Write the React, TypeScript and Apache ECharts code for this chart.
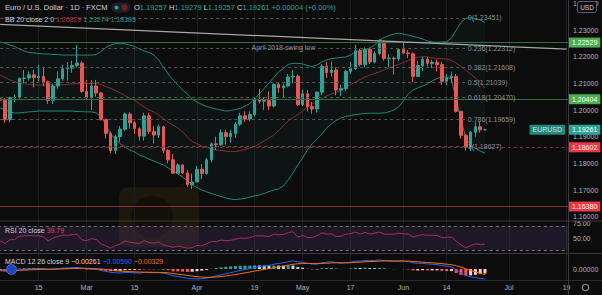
import React, { useEffect, useRef } from 'react';
import * as echarts from 'echarts';

const FIRST_DAY = '2021-02-03';
const LAST_DAY = '2021-07-19';

const dateTicks: [string, string][] = [
  ['2021-02-15', '15'], ['2021-03-01', 'Mar'], ['2021-03-15', '15'], ['2021-04-01', 'Apr'],
  ['2021-04-19', '19'], ['2021-05-03', 'May'], ['2021-05-17', '17'], ['2021-06-01', 'Jun'],
  ['2021-06-14', '14'], ['2021-07-01', 'Jul'], ['2021-07-19', '19'],
];

// [open, high, low, close]
const ohlc: number[][] = [
  [1.2042, 1.2058, 1.2015, 1.2037], [1.2037, 1.2045, 1.1952, 1.1963], [1.1963, 1.2050, 1.1953, 1.2046],
  [1.2046, 1.2058, 1.2030, 1.2048], [1.2048, 1.2122, 1.2040, 1.2118], [1.2118, 1.2150, 1.2101, 1.2120],
  [1.2120, 1.2145, 1.2110, 1.2132], [1.2132, 1.2150, 1.2085, 1.2122], [1.2122, 1.2170, 1.2108, 1.2126],
  [1.2126, 1.2162, 1.2089, 1.2106], [1.2106, 1.2110, 1.2023, 1.2036], [1.2036, 1.2100, 1.2023, 1.2090],
  [1.2090, 1.2145, 1.2080, 1.2117], [1.2117, 1.2170, 1.2110, 1.2155], [1.2155, 1.2180, 1.2110, 1.2157],
  [1.2157, 1.2185, 1.2140, 1.2167], [1.2167, 1.2243, 1.2160, 1.2176], [1.2176, 1.2183, 1.2065, 1.2070],
  [1.2070, 1.2112, 1.2040, 1.2046], [1.2046, 1.2112, 1.2000, 1.2090], [1.2090, 1.2113, 1.2050, 1.2064],
  [1.2064, 1.2068, 1.1960, 1.1964], [1.1964, 1.1968, 1.1893, 1.1912], [1.1912, 1.1920, 1.1838, 1.1848],
  [1.1848, 1.1908, 1.1835, 1.1900], [1.1900, 1.1940, 1.1880, 1.1928], [1.1928, 1.1990, 1.1922, 1.1985],
  [1.1985, 1.1992, 1.1930, 1.1952], [1.1952, 1.1960, 1.1910, 1.1930], [1.1930, 1.1935, 1.1885, 1.1902],
  [1.1902, 1.1990, 1.1885, 1.1978], [1.1978, 1.1990, 1.1910, 1.1920], [1.1920, 1.1940, 1.1874, 1.1906],
  [1.1906, 1.1945, 1.1895, 1.1937], [1.1937, 1.1942, 1.1838, 1.1848], [1.1848, 1.1853, 1.1800, 1.1813],
  [1.1813, 1.1835, 1.1760, 1.1763], [1.1763, 1.1800, 1.1760, 1.1794], [1.1794, 1.1796, 1.1760, 1.1764],
  [1.1764, 1.1775, 1.1712, 1.1720], [1.1720, 1.1762, 1.1704, 1.1730], [1.1730, 1.1790, 1.1730, 1.1778],
  [1.1778, 1.1797, 1.1740, 1.1762], [1.1762, 1.1820, 1.1758, 1.1813], [1.1813, 1.1878, 1.1803, 1.1873],
  [1.1873, 1.1900, 1.1850, 1.1870], [1.1870, 1.1927, 1.1865, 1.1915], [1.1915, 1.1925, 1.1870, 1.1900],
  [1.1900, 1.1925, 1.1876, 1.1912], [1.1912, 1.1955, 1.1895, 1.1947], [1.1947, 1.1990, 1.1940, 1.1978],
  [1.1978, 1.1995, 1.1955, 1.1966], [1.1966, 1.1995, 1.1958, 1.1983], [1.1983, 1.2048, 1.1975, 1.2037],
  [1.2037, 1.2080, 1.2024, 1.2033], [1.2033, 1.2048, 1.2000, 1.2035], [1.2035, 1.2070, 1.2000, 1.2015],
  [1.2015, 1.2100, 1.2010, 1.2096], [1.2096, 1.2102, 1.2065, 1.2083], [1.2083, 1.2100, 1.2045, 1.2090],
  [1.2090, 1.2135, 1.2085, 1.2124], [1.2124, 1.2150, 1.2100, 1.2127], [1.2127, 1.2133, 1.2015, 1.2020],
  [1.2020, 1.2077, 1.2015, 1.2061], [1.2061, 1.2075, 1.1995, 1.2013], [1.2013, 1.2030, 1.1986, 1.2004],
  [1.2004, 1.2070, 1.1990, 1.2067], [1.2067, 1.2172, 1.2055, 1.2164], [1.2164, 1.2180, 1.2120, 1.2140],
  [1.2140, 1.2182, 1.2125, 1.2150], [1.2150, 1.2160, 1.2055, 1.2075], [1.2075, 1.2095, 1.2052, 1.2080],
  [1.2080, 1.2150, 1.2072, 1.2145], [1.2145, 1.2180, 1.2135, 1.2155], [1.2155, 1.2245, 1.2150, 1.2222],
  [1.2222, 1.2230, 1.2163, 1.2170], [1.2170, 1.2235, 1.2160, 1.2227], [1.2227, 1.2235, 1.2172, 1.2180],
  [1.2180, 1.2220, 1.2175, 1.2212], [1.2212, 1.2266, 1.2205, 1.2249], [1.2249, 1.2260, 1.2185, 1.2193],
  [1.2193, 1.2210, 1.2160, 1.2194], [1.2194, 1.2200, 1.2133, 1.2192], [1.2192, 1.2230, 1.2185, 1.2227],
  [1.2227, 1.2255, 1.2210, 1.2214], [1.2214, 1.2225, 1.2195, 1.2211], [1.2211, 1.2216, 1.2104, 1.2126],
  [1.2126, 1.2184, 1.2125, 1.2167], [1.2167, 1.2200, 1.2145, 1.2190], [1.2190, 1.2200, 1.2163, 1.2175],
  [1.2175, 1.2188, 1.2157, 1.2179], [1.2179, 1.2190, 1.2145, 1.2170], [1.2170, 1.2180, 1.2094, 1.2108],
  [1.2108, 1.2135, 1.2093, 1.2120], [1.2120, 1.2144, 1.2105, 1.2126], [1.2126, 1.2135, 1.1990, 1.1995],
  [1.1995, 1.1997, 1.1893, 1.1905], [1.1905, 1.1910, 1.1848, 1.1860], [1.1860, 1.1922, 1.1846, 1.1917],
  [1.1917, 1.1954, 1.1900, 1.1937], [1.1937, 1.1955, 1.1915, 1.19257], [1.19257, 1.19279, 1.19257, 1.19261],
];

const bbUpper = [
  1.2255, 1.2251, 1.2244, 1.2238, 1.2229, 1.2221, 1.2216, 1.2214, 1.2212, 1.2210,
  1.2210, 1.2208, 1.2208, 1.2206, 1.2206, 1.2206, 1.2206, 1.2206, 1.2206, 1.2206,
  1.2208, 1.2219, 1.2234, 1.2244, 1.2249, 1.2250, 1.2248, 1.2244, 1.2238, 1.2229,
  1.2221, 1.2216, 1.2206, 1.2188, 1.2161, 1.2135, 1.2113, 1.2094, 1.2075, 1.2060,
  1.2041, 1.2030, 1.2021, 1.2013, 1.2008, 1.2004, 1.2000, 1.1996, 1.1998, 1.2002,
  1.2006, 1.2015, 1.2024, 1.2041, 1.2060, 1.2081, 1.2101, 1.2122, 1.2143, 1.2156,
  1.2171, 1.2175, 1.2175, 1.2173, 1.2167, 1.2163, 1.2169, 1.2180, 1.2188, 1.2193,
  1.2195, 1.2197, 1.2199, 1.2206, 1.2218, 1.2223, 1.2227, 1.2231, 1.2244, 1.2261,
  1.2272, 1.2279, 1.2285, 1.2288, 1.2285, 1.2281, 1.2276, 1.2272, 1.2266, 1.2259,
  1.2255, 1.2254, 1.2255, 1.2256, 1.2270, 1.2300, 1.2328, 1.2344, 1.2346, 1.2343,
  1.2338, 1.23274,
];

const bbBasis = [
  1.2131, 1.2122, 1.2113, 1.2107, 1.2101, 1.2098, 1.2096, 1.2094, 1.2094, 1.2094,
  1.2094, 1.2094, 1.2094, 1.2094, 1.2096, 1.2098, 1.2099, 1.2099, 1.2099, 1.2099,
  1.2099, 1.2096, 1.2088, 1.2081, 1.2073, 1.2064, 1.2054, 1.2045, 1.2036, 1.2023,
  1.2011, 1.2000, 1.1993, 1.1981, 1.1968, 1.1955, 1.1944, 1.1933, 1.1918, 1.1899,
  1.1882, 1.1873, 1.1865, 1.1859, 1.1854, 1.1850, 1.1848, 1.1846, 1.1844, 1.1844,
  1.1848, 1.1852, 1.1858, 1.1863, 1.1873, 1.1884, 1.1895, 1.1906, 1.1923, 1.1940,
  1.1959, 1.1972, 1.1983, 1.1996, 1.2011, 1.2023, 1.2032, 1.2043, 1.2053, 1.2060,
  1.2066, 1.2075, 1.2086, 1.2096, 1.2105, 1.2114, 1.2124, 1.2131, 1.2137, 1.2143,
  1.2150, 1.2158, 1.2165, 1.2171, 1.2178, 1.2186, 1.2193, 1.2198, 1.2200, 1.2199,
  1.2195, 1.2194, 1.2193, 1.2191, 1.2186, 1.2176, 1.2163, 1.2150, 1.2135, 1.2120,
  1.2103, 1.20829,
];

const bbLower = [
  1.2008, 1.2000, 1.1993, 1.1989, 1.1989, 1.1991, 1.1993, 1.1994, 1.1996, 1.1996,
  1.1996, 1.1996, 1.1996, 1.1996, 1.1996, 1.1996, 1.1994, 1.1994, 1.1993, 1.1993,
  1.1989, 1.1976, 1.1944, 1.1910, 1.1891, 1.1874, 1.1861, 1.1850, 1.1843, 1.1831,
  1.1824, 1.1816, 1.1809, 1.1801, 1.1794, 1.1783, 1.1771, 1.1760, 1.1749, 1.1734,
  1.1719, 1.1709, 1.1700, 1.1693, 1.1687, 1.1681, 1.1676, 1.1670, 1.1666, 1.1664,
  1.1666, 1.1668, 1.1674, 1.1678, 1.1681, 1.1687, 1.1694, 1.1700, 1.1704, 1.1715,
  1.1738, 1.1764, 1.1794, 1.1820, 1.1850, 1.1873, 1.1891, 1.1910, 1.1933, 1.1948,
  1.1961, 1.1970, 1.1976, 1.1979, 1.1983, 1.1985, 1.1987, 1.1988, 1.1988, 1.1988,
  1.1989, 1.1993, 1.2000, 1.2011, 1.2034, 1.2060, 1.2075, 1.2083, 1.2090, 1.2098,
  1.2109, 1.2118, 1.2124, 1.2124, 1.2116, 1.2038, 1.1963, 1.1895, 1.1869, 1.1856,
  1.1846, 1.18383,
];

const rsi = [
  45, 41, 47, 47.5, 53, 53.5, 54.5, 53.5, 54, 52,
  45, 50, 52.5, 55, 54.5, 55.5, 56, 47, 45.5, 49,
  47.5, 40.5, 37, 33, 37.5, 40, 45, 43, 42, 40.5,
  45.5, 42.5, 41.5, 43.5, 38.5, 36.5, 34.5, 36.5, 35, 33,
  34, 37.5, 37, 40.5, 44, 44, 46.5, 45.5, 46, 48,
  50, 49.5, 50.5, 53.5, 53.5, 53.5, 52.5, 56.5, 55.5, 56,
  59, 60.5, 51.5, 54, 51, 50.5, 54, 58.5, 56.5, 57,
  52.5, 53, 56.5, 57, 60, 56.5, 59.5, 56.5, 58, 60,
  56.5, 56.5, 56.5, 58, 57, 56.8, 51.5, 54, 55.5, 54.5,
  54.8, 54.2, 50.5, 51.2, 51.5, 44.5, 38.5, 33.5, 37.5, 40.2,
  39.4, 39.79,
];

const macdLine = [
  -0.0010, -0.0013, -0.0011, -0.0009, -0.0005, -0.0002, 0.0000, 0.0001, 0.0002, 0.0002,
  -0.0001, 0.0000, 0.0002, 0.0005, 0.0006, 0.0008, 0.0009, 0.0005, 0.0001, 0.0000,
  -0.0002, -0.0008, -0.0014, -0.0020, -0.0022, -0.0023, -0.0021, -0.0021, -0.0022, -0.0024,
  -0.0020, -0.0021, -0.0022, -0.0021, -0.0025, -0.0030, -0.0040, -0.0044, -0.0049, -0.0055,
  -0.0058, -0.0058, -0.0057, -0.0054, -0.0047, -0.0041, -0.0034, -0.0028, -0.0022, -0.0015,
  -0.0008, -0.0003, 0.0002, 0.0009, 0.0014, 0.0018, 0.0021, 0.0028, 0.0033, 0.0037,
  0.0043, 0.0048, 0.0042, 0.0040, 0.0034, 0.0029, 0.0029, 0.0037, 0.0040, 0.0043,
  0.0038, 0.0035, 0.0037, 0.0040, 0.0046, 0.0046, 0.0050, 0.0049, 0.0050, 0.0053,
  0.0050, 0.0048, 0.0046, 0.0047, 0.0046, 0.0044, 0.0036, 0.0034, 0.0033, 0.0030,
  0.0028, 0.0026, 0.0020, 0.0016, 0.0013, -0.0004, -0.0024, -0.0038, -0.0046, -0.0051,
  -0.0055, -0.0059,
];

const signalLine = [
  -0.00060, -0.00074, -0.00081, -0.00083, -0.00076, -0.00065, -0.00052, -0.00040, -0.00028, -0.00018,
  -0.00017, -0.00014, -0.00007, 0.00004, 0.00015, 0.00028, 0.00040, 0.00042, 0.00036, 0.00029,
  0.00019, -0.00001, -0.00029, -0.00063, -0.00094, -0.00121, -0.00139, -0.00153, -0.00166, -0.00181,
  -0.00185, -0.00190, -0.00196, -0.00199, -0.00209, -0.00227, -0.00262, -0.00298, -0.00336, -0.00379,
  -0.00419, -0.00451, -0.00475, -0.00488, -0.00484, -0.00469, -0.00443, -0.00410, -0.00372, -0.00328,
  -0.00278, -0.00228, -0.00178, -0.00124, -0.00071, -0.00021, 0.00025, 0.00076, 0.00127, 0.00176,
  0.00227, 0.00278, 0.00306, 0.00325, 0.00328, 0.00320, 0.00314, 0.00325, 0.00340, 0.00358,
  0.00362, 0.00360, 0.00362, 0.00370, 0.00388, 0.00402, 0.00422, 0.00436, 0.00449, 0.00465,
  0.00472, 0.00474, 0.00471, 0.00471, 0.00469, 0.00463, 0.00442, 0.00422, 0.00404, 0.00383,
  0.00362, 0.00342, 0.00314, 0.00283, 0.00252, 0.00194, 0.00107, 0.00010, -0.00084, -0.00169,
  -0.00258, -0.00329,
];

const macdHist = [
  -0.00040, -0.00056, -0.00029, -0.00007, 0.00026, 0.00045, 0.00052, 0.00050, 0.00048, 0.00038,
  0.00007, 0.00014, 0.00027, 0.00046, 0.00045, 0.00052, 0.00050, 0.00008, -0.00026, -0.00029,
  -0.00039, -0.00079, -0.00111, -0.00137, -0.00126, -0.00109, -0.00071, -0.00057, -0.00054, -0.00059,
  -0.00015, -0.00020, -0.00024, -0.00011, -0.00041, -0.00073, -0.00138, -0.00142, -0.00154, -0.00171,
  -0.00161, -0.00129, -0.00095, -0.00052, 0.00014, 0.00059, 0.00103, 0.00130, 0.00152, 0.00178,
  0.00198, 0.00198, 0.00198, 0.00214, 0.00211, 0.00201, 0.00185, 0.00204, 0.00203, 0.00194,
  0.00203, 0.00202, 0.00114, 0.00075, 0.00012, -0.00030, -0.00024, 0.00045, 0.00060, 0.00072,
  0.00018, -0.00010, 0.00008, 0.00030, 0.00072, 0.00058, 0.00078, 0.00054, 0.00051, 0.00065,
  0.00028, 0.00006, -0.00011, -0.00001, -0.00009, -0.00023, -0.00082, -0.00082, -0.00074, -0.00083,
  -0.00082, -0.00082, -0.00114, -0.00123, -0.00122, -0.00234, -0.00347, -0.00390, -0.00376, -0.00341,
  -0.00292, -0.00261,
];

const priceTicks = [1.16, 1.17, 1.18, 1.19, 1.2, 1.21, 1.22, 1.23, 1.24];
const greenLevels = [1.22529, 1.20404];
const redLevels = [1.18602, 1.1638];
const fibLevels: [number, number][] = [
  [0, 1.23451], [0.236, 1.22312], [0.382, 1.21608], [0.5, 1.21039],
  [0.618, 1.2047], [0.786, 1.19659], [1, 1.18627],
];
const fibEndDay = '2021-06-18';
const trendStart = 1.23214;
const trendEnd = 1.2228;
const swingLowNote = 'April 2018 swing low';

function tradingDays(from: string, to: string): string[] {
  const out: string[] = [];
  const d = new Date(from + 'T00:00:00Z');
  const end = new Date(to + 'T00:00:00Z');
  while (d <= end) {
    const w = d.getUTCDay();
    if (w !== 0 && w !== 6) out.push(d.toISOString().slice(0, 10));
    d.setUTCDate(d.getUTCDate() + 1);
  }
  return out;
}

const FONT = "'Liberation Sans', Arial, sans-serif";
const AXIS_TXT = '#b2b5be';
const UP = '#26a69a';
const DOWN = '#ef5350';
const NOLINE = { color: 'rgba(0,0,0,0)', width: 0 };
const fmtSigned = (v: number, d: number) => (v < 0 ? '\u2212' : '') + Math.abs(v).toFixed(d);

export default function App() {
  const ref = useRef<HTMLDivElement>(null);
  useEffect(() => {
    document.body.style.margin = '0';
    document.body.style.background = '#0c0c0c';
    if (!ref.current) return;
    const chart = echarts.init(ref.current, null, { renderer: 'svg' });
    const days = tradingDays(FIRST_DAY, LAST_DAY);
    const tickMap = new Map(dateTicks);
    const last = ohlc[ohlc.length - 1];
    const prevClose = ohlc[ohlc.length - 2][3];
    const lastClose = last[3];
    const chg = lastClose - prevClose;
    const n = ohlc.length;

    const boxLabel = (v: number, bg: string) => ({
      show: true, position: 'end', formatter: v.toFixed(5), backgroundColor: bg, color: '#ffffff',
      fontSize: 7, fontFamily: FONT, padding: [2, 3, 1, 3], distance: 0,
    });

    const priceMarks: any[] = [
      ...greenLevels.map((v) => ({ yAxis: v, lineStyle: { color: '#2f6f3c', width: 1, type: 'solid' }, label: boxLabel(v, '#4caf50') })),
      ...redLevels.map((v, k) => ({ yAxis: v, lineStyle: { color: '#823030', width: 1, type: k === 0 ? [3, 3] : 'solid' }, label: boxLabel(v, '#f23645') })),
      { yAxis: greenLevels[0], lineStyle: NOLINE, label: { show: true, position: 'insideMiddleBottom', formatter: swingLowNote, color: '#8f929b', fontSize: 7, fontFamily: FONT, distance: 1 } },
      { yAxis: lastClose, lineStyle: NOLINE, label: boxLabel(lastClose, UP) },
      ...fibLevels.map(([r, v]) => [
        { coord: [days[0], v], lineStyle: { color: '#565656', width: 1, type: [3, 3] }, label: { show: true, position: 'end', formatter: `${r}(${v.toFixed(5)})`, color: '#8f929b', fontSize: 7, fontFamily: FONT, distance: 2 } },
        { coord: [fibEndDay, v] },
      ]),
      [
        { coord: [days[0], trendStart], lineStyle: { color: '#a8a8a8', width: 1.3, type: 'solid' }, label: { show: false } },
        { coord: [days[days.length - 1], trendEnd] },
      ],
    ];

    const histColors = macdHist.map((h, i) => {
      const p = i > 0 ? macdHist[i - 1] : h;
      if (h >= 0) return h >= p ? '#26a69a' : '#b2dfdb';
      return h < p ? '#ff5252' : '#ffcdd2';
    });

    const hiddenX = (gi: number) => ({ type: 'category', gridIndex: gi, data: days, boundaryGap: true, show: false });
    const baseY = {
      type: 'value', position: 'right', splitLine: { show: false }, axisLine: { show: false }, axisTick: { show: false },
    };
    const grid = (o: any) => ({ ...o, containLabel: false, outerBoundsMode: 'none' });

    const option: any = {
      animation: false,
      backgroundColor: '#0c0c0c',
      textStyle: { fontFamily: FONT },
      grid: [
        grid({ left: -2.2, width: 571.2, top: -23.33, height: 266.67 }),
        grid({ left: -2.2, width: 571.2, top: 208, height: 60 }),
        grid({ left: -2.2, width: 571.2, top: 252, height: 34 }),
        grid({ left: 0.2, width: 566.4, top: 0, height: 280 }),
      ],
      xAxis: [
        hiddenX(0), hiddenX(1), hiddenX(2),
        {
          type: 'category', gridIndex: 3, data: days, boundaryGap: false,
          axisLine: { show: false }, axisTick: { show: false },
          axisLabel: {
            interval: (_i: number, v: string) => tickMap.has(v),
            formatter: (v: string) => tickMap.get(v) || '',
            color: AXIS_TXT, fontSize: 7, fontFamily: FONT, margin: 4,
          },
          splitLine: { show: true, interval: (_i: number, v: string) => tickMap.has(v), lineStyle: { color: '#1b1b1b', width: 1 } },
        },
      ],
      yAxis: [
        {
          ...baseY, gridIndex: 0, min: 1.15, max: 1.25, interval: 0.01,
          axisLabel: {
            color: AXIS_TXT, fontSize: 7, fontFamily: FONT, margin: 4,
            formatter: (v: number) => (priceTicks.some((t) => Math.abs(t - v) < 1e-6) ? v.toFixed(5) : ''),
          },
        },
        {
          ...baseY, gridIndex: 1, min: 0, max: 100, interval: 25,
          axisLabel: { color: AXIS_TXT, fontSize: 7, fontFamily: FONT, margin: 4, formatter: (v: number) => (v === 50 || v === 75 ? v.toFixed(2) : '') },
        },
        {
          ...baseY, gridIndex: 2, min: -0.01, max: 0.01, interval: 0.01,
          axisLabel: { color: AXIS_TXT, fontSize: 7, fontFamily: FONT, margin: 4, formatter: (v: number) => (Math.abs(v) < 1e-9 ? '0.00000' : '') },
        },
        { type: 'value', gridIndex: 3, show: false, min: 0, max: 1 },
      ],
      series: [
        {
          type: 'line', xAxisIndex: 0, yAxisIndex: 0, data: bbLower, stack: 'bb', symbol: 'none', silent: true,
          lineStyle: { opacity: 0 }, z: 1,
        },
        {
          type: 'line', xAxisIndex: 0, yAxisIndex: 0, data: bbUpper.map((u, i) => +(u - bbLower[i]).toFixed(5)), stack: 'bb',
          symbol: 'none', silent: true, lineStyle: { opacity: 0 }, areaStyle: { color: 'rgba(38,166,154,0.08)' }, z: 1,
        },
        { type: 'line', xAxisIndex: 0, yAxisIndex: 0, data: bbUpper, symbol: 'none', silent: true, lineStyle: { color: '#1c8a78', width: 1 }, z: 2 },
        { type: 'line', xAxisIndex: 0, yAxisIndex: 0, data: bbLower, symbol: 'none', silent: true, lineStyle: { color: '#1c8a78', width: 1 }, z: 2 },
        { type: 'line', xAxisIndex: 0, yAxisIndex: 0, data: bbBasis, symbol: 'none', silent: true, lineStyle: { color: '#8a2e30', width: 1 }, z: 2 },
        {
          type: 'candlestick', xAxisIndex: 0, yAxisIndex: 0, barWidth: 3,
          data: ohlc.map(([o, h, l, c]) => [o, c, l, h]),
          itemStyle: { color: UP, color0: DOWN, borderColor: UP, borderColor0: DOWN, borderWidth: 1 },
          z: 3,
          markLine: { silent: true, precision: 5, symbol: ['none', 'none'], animation: false, label: { show: false }, data: priceMarks },
        },
        {
          type: 'scatter', xAxisIndex: 0, yAxisIndex: 0, data: [[days[days.length - 1], lastClose]], symbol: 'rect', symbolSize: 1,
          itemStyle: { color: 'transparent' }, silent: true, z: 6,
          label: { show: true, position: 'left', distance: 1, formatter: 'EURUSD', backgroundColor: UP, color: '#ffffff', fontSize: 7, fontFamily: FONT, padding: [2, 3, 1, 3] },
        },
        {
          type: 'line', xAxisIndex: 1, yAxisIndex: 1, data: rsi, symbol: 'none', silent: true,
          lineStyle: { color: '#a8305c', width: 1 },
          markArea: { silent: true, itemStyle: { color: 'rgba(126,87,194,0.16)' }, data: [[{ yAxis: 30 }, { yAxis: 70 }]] },
          markLine: { silent: true, precision: 2, symbol: ['none', 'none'], label: { show: false }, lineStyle: { color: '#6f7280', type: [3, 3], width: 1 }, data: [{ yAxis: 70 }, { yAxis: 30 }] },
        },
        {
          type: 'bar', xAxisIndex: 2, yAxisIndex: 2, barWidth: 3, silent: true,
          data: macdHist.map((h, i) => ({ value: h, itemStyle: { color: histColors[i] } })),
        },
        { type: 'line', xAxisIndex: 2, yAxisIndex: 2, data: macdLine, symbol: 'none', silent: true, lineStyle: { color: '#2962ff', width: 1 } },
        { type: 'line', xAxisIndex: 2, yAxisIndex: 2, data: signalLine, symbol: 'none', silent: true, lineStyle: { color: '#ff6d00', width: 1 } },
      ],
      graphic: [
        { type: 'rect', z: 0, silent: true, shape: { x: 119, y: 187, width: 80, height: 60, r: 9 }, style: { fill: 'rgba(150,115,20,0.12)' } },
        { type: 'circle', z: 0, silent: true, shape: { cx: 152, cy: 217, r: 21 }, style: { fill: 'rgba(0,0,0,0.3)' } },
        { type: 'line', z: 50, silent: true, shape: { x1: 0, y1: 221, x2: 602, y2: 221 }, style: { stroke: '#3a3a3a', lineWidth: 1 } },
        { type: 'line', z: 50, silent: true, shape: { x1: 0, y1: 253.5, x2: 602, y2: 253.5 }, style: { stroke: '#3a3a3a', lineWidth: 1 } },
        { type: 'line', z: 50, silent: true, shape: { x1: 0, y1: 280.5, x2: 602, y2: 280.5 }, style: { stroke: '#2a2a2a', lineWidth: 1 } },
        { type: 'line', z: 50, silent: true, shape: { x1: 568.5, y1: 0, x2: 568.5, y2: 295 }, style: { stroke: '#3a3a3a', lineWidth: 1 } },
        {
          type: 'text', z: 100, silent: true, x: 5, y: 7.5,
          style: { text: 'Euro / U.S. Dollar \u00b7 1D \u00b7 FXCM', fill: '#d1d4dc', fontSize: 7.5, fontFamily: FONT, verticalAlign: 'middle' },
        },
        { type: 'rect', z: 100, silent: true, shape: { x: 111.5, y: 2.5, width: 19, height: 10, r: 5 }, style: { fill: '#1c1f27' } },
        { type: 'circle', z: 101, silent: true, shape: { cx: 116.5, cy: 7.5, r: 2 }, style: { fill: '#26a69a' } },
        { type: 'circle', z: 101, silent: true, shape: { cx: 124.5, cy: 7.5, r: 3.2 }, style: { fill: '#6b1f2a' } },
        {
          type: 'text', z: 100, silent: true, x: 134, y: 7.5,
          style: {
            text: `{l|O}{v|${last[0].toFixed(5)}} {l|H}{v|${last[1].toFixed(5)}} {l|L}{v|${last[2].toFixed(5)}} {l|C}{v|${last[3].toFixed(5)}} {v|${chg >= 0 ? '+' : '\u2212'}${Math.abs(chg).toFixed(5)} (${chg >= 0 ? '+' : '\u2212'}${Math.abs((chg / prevClose) * 100).toFixed(2)}%)}`,
            fontSize: 7.5, fontFamily: FONT, verticalAlign: 'middle',
            rich: { l: { fill: '#d1d4dc', fontSize: 7.5, fontFamily: FONT }, v: { fill: UP, fontSize: 7.5, fontFamily: FONT } },
          },
        },
        {
          type: 'text', z: 100, silent: true, x: 5, y: 19.5,
          style: {
            text: `{t|BB 20 close 2 0} {b|${bbBasis[n - 1].toFixed(5)}} {u|${bbUpper[n - 1].toFixed(5)}} {u|${bbLower[n - 1].toFixed(5)}}`,
            fontSize: 7, fontFamily: FONT, verticalAlign: 'middle',
            rich: { t: { fill: '#d1d4dc', fontSize: 7, fontFamily: FONT }, b: { fill: '#b8323a', fontSize: 7, fontFamily: FONT }, u: { fill: '#1f9c88', fontSize: 7, fontFamily: FONT } },
          },
        },
        {
          type: 'text', z: 100, silent: true, x: 5, y: 230.5,
          style: {
            text: `{t|RSI 20 close} {r|${rsi[n - 1].toFixed(2)}}`, fontSize: 7, fontFamily: FONT, verticalAlign: 'middle',
            rich: { t: { fill: '#d1d4dc', fontSize: 7, fontFamily: FONT }, r: { fill: '#e0455e', fontSize: 7, fontFamily: FONT } },
          },
        },
        {
          type: 'text', z: 100, silent: true, x: 5, y: 261.5,
          style: {
            text: `{t|MACD 12 26 close 9} {h|${fmtSigned(macdHist[n - 1], 5)}} {m|${fmtSigned(macdLine[n - 1], 5)}} {s|${fmtSigned(signalLine[n - 1], 5)}}`,
            fontSize: 7, fontFamily: FONT, verticalAlign: 'middle',
            rich: {
              t: { fill: '#d1d4dc', fontSize: 7, fontFamily: FONT }, h: { fill: '#ffcdd2', fontSize: 7, fontFamily: FONT },
              m: { fill: '#2962ff', fontSize: 7, fontFamily: FONT }, s: { fill: '#ff6d00', fontSize: 7, fontFamily: FONT },
            },
          },
        },
        { type: 'circle', z: 100, silent: true, shape: { cx: 11.5, cy: 269.5, r: 5 }, style: { fill: '#1f47b8', stroke: '#3c6fe0', lineWidth: 1 } },
        { type: 'rect', z: 100, silent: true, shape: { x: 577.5, y: 1.5, width: 19, height: 11, r: 2 }, style: { fill: '#0c0c0c', stroke: '#5d606b', lineWidth: 1 } },
        { type: 'text', z: 101, silent: true, x: 587, y: 7.5, style: { text: 'USD', fill: '#d1d4dc', fontSize: 6.5, fontFamily: FONT, align: 'center', verticalAlign: 'middle' } },
        { type: 'circle', z: 100, silent: true, shape: { cx: 585.5, cy: 287.5, r: 3.2 }, style: { fill: 'none', stroke: '#8a8d96', lineWidth: 1.2 } },
      ],
    };
    chart.setOption(option);
    return () => chart.dispose();
  }, []);
  return <div ref={ref} style={{ position: 'fixed', left: 0, top: 0, width: 602, height: 295, background: '#0c0c0c' }} />;
}
